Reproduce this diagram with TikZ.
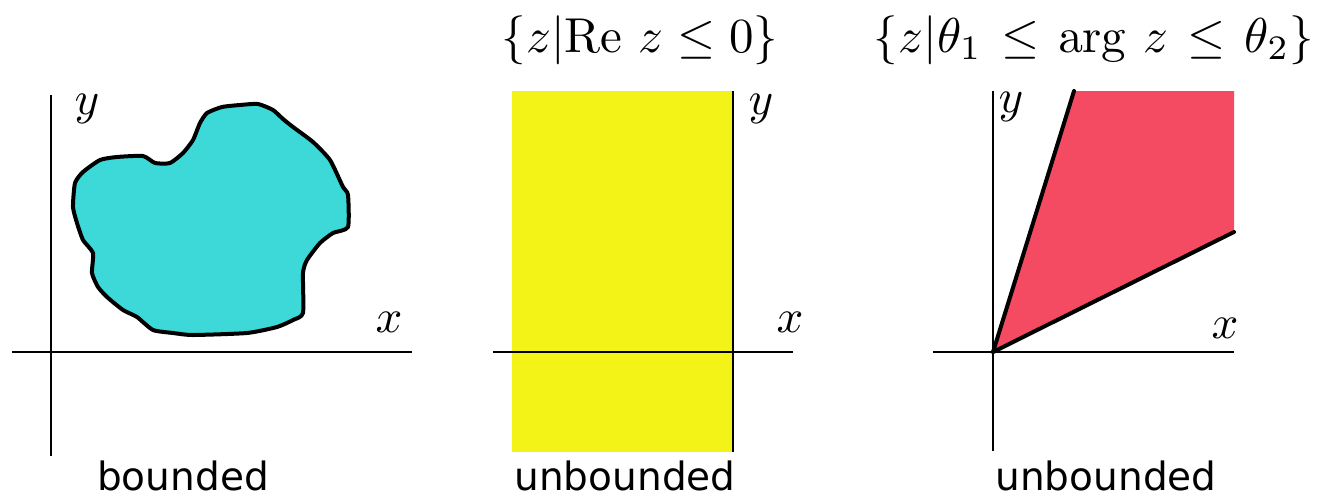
\documentclass[tikz,border=0pt]{standalone}
\usepackage[no-math]{fontspec}
\newfontfamily\dejavu{DejaVu Sans}
\definecolor{blobcyan}{HTML}{3DD9D8}
\definecolor{stripyellow}{HTML}{F3F318}
\definecolor{wedgered}{HTML}{F44B63}
\newcommand{\axtext}[1]{\scalebox{4.7}{#1}}
\newcommand{\tttext}[1]{\scalebox{4.9}{#1}}
\tikzset{
  axis/.style={line width=2pt, black},
  bold/.style={line width=4pt, black, line cap=round, line join=round},
  axlabel/.style={anchor=base, inner sep=0pt},
  title/.style={anchor=base, inner sep=0pt},
  caption/.style={anchor=base, inner sep=0pt, text depth=0pt, font=\dejavu\fontsize{39}{46}\selectfont},
}
\begin{document}
\begin{tikzpicture}[x=1pt, y=-1pt]
\useasboundingbox (0,0) rectangle (1321,498);
% ---------- panel 1 ----------
\draw[bold, fill=blobcyan] plot[smooth cycle, tension=0.35] coordinates {
 (200,123) (207,113) (222,107) (240,105) (258,104) (273,110) (283,119) (293,127)
 (313,142) (330,160) (343,187) (348,195) (348,227) (333,233) (320,243)
 (307,260) (303,273) (303,313) (293,320) (277,327) (247,333) (193,335)
 (173,333) (153,330) (137,317) (123,310) (107,297) (98,287) (92,273)
 (93,253) (83,240) (77,223) (73,207) (75,183) (83,172) (100,160)
 (117,157) (143,156) (155,163) (170,163) (183,153) (193,140)};
\coordinate (p1t) at (51,95);
\coordinate (p1b) at (51,456);
\coordinate (p1l) at (12,352);
\coordinate (p1r) at (412,352);
\draw[axis] (p1t) -- (p1b);
\draw[axis] (p1l) -- (p1r);
\node[axlabel] (p1y) at (87,114) {\axtext{$y$}};
\node[axlabel] (p1x) at (389,332) {\axtext{$x$}};
\node[caption] (p1c) at (183,490) {bounded};
% ---------- panel 2 ----------
\fill[stripyellow] (512,91) rectangle (733,452);
\coordinate (p2t) at (733,91);
\coordinate (p2b) at (733,452);
\coordinate (p2l) at (493,352);
\coordinate (p2r) at (793,352);
\draw[axis] (p2t) -- (p2b);
\draw[axis] (p2l) -- (p2r);
\node[axlabel] (p2y) at (761,114) {\axtext{$y$}};
\node[axlabel] (p2x) at (790,332) {\axtext{$x$}};
\node[title] (p2title) at (640,52) {\tttext{$\{z|\mathrm{Re}\ z\leq 0\}$}};
\node[caption] (p2c) at (625,490) {unbounded};
% ---------- panel 3 ----------
\coordinate (o3) at (993,352);
\coordinate (w1) at (1074,91);
\coordinate (w2) at (1234,91);
\coordinate (w3) at (1234,232);
\fill[wedgered] (o3) -- (w1) -- (w2) -- (w3) -- cycle;
\coordinate (p3t) at (993,91);
\coordinate (p3b) at (993,451);
\coordinate (p3l) at (933,352);
\coordinate (p3r) at (1234,352);
\draw[axis] (p3t) -- (p3b);
\draw[axis] (p3l) -- (p3r);
\draw[bold] (o3) -- (w1);
\draw[bold] (o3) -- (w3);
\node[axlabel] (p3y) at (1011,112) {\axtext{$y$}};
\node[axlabel] (p3x) at (1225,338) {\axtext{$x$}};
\node[title] (p3title) at (1094,52) {\tttext{$\{z|\theta_1\mkern2mu\leq\mkern2mu \mathrm{arg}\ z\mkern2mu\leq\mkern2mu\theta_2\}$}};
\node[caption] (p3c) at (1106,490) {unbounded};
\end{tikzpicture}
\end{document}
